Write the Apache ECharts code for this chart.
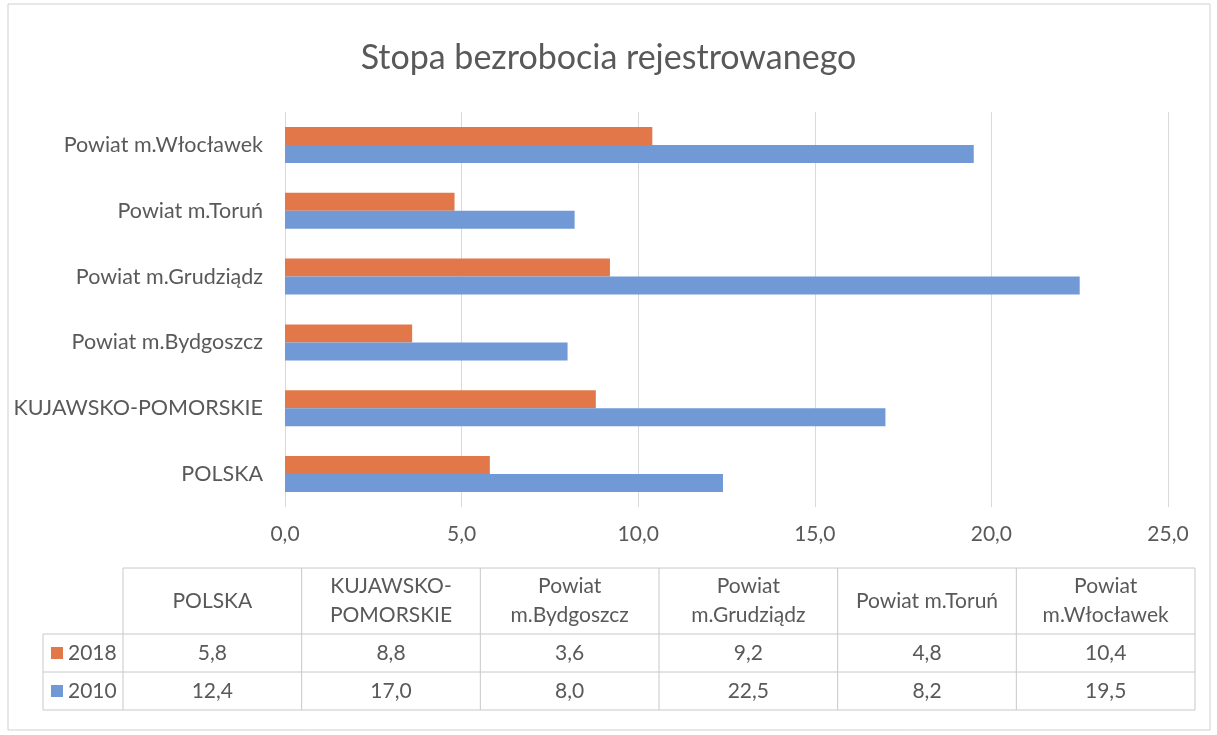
<!DOCTYPE html>
<html>
<head>
<meta charset="utf-8">
<script src="https://cdn.jsdelivr.net/npm/echarts@6/dist/echarts.min.js"></script>
<style>
  html, body { margin: 0; padding: 0; background: #fff; }
  #main { width: 1217px; height: 735px; }
</style>
</head>
<body>
<div id="main"></div>
<script>
// bottom to top, same order as the table columns
var categories = ['POLSKA', 'KUJAWSKO-POMORSKIE', 'Powiat m.Bydgoszcz', 'Powiat m.Grudziądz', 'Powiat m.Toruń', 'Powiat m.Włocławek'];
var tableHeaders = ['POLSKA', 'KUJAWSKO-\nPOMORSKIE', 'Powiat\nm.Bydgoszcz', 'Powiat\nm.Grudziądz', 'Powiat m.Toruń', 'Powiat\nm.Włocławek'];
var values2018 = [5.8, 8.8, 3.6, 9.2, 4.8, 10.4];
var values2010 = [12.4, 17.0, 8.0, 22.5, 8.2, 19.5];
var xTicks = [0, 5, 10, 15, 20, 25];

var ORANGE = '#E2784A';
var BLUE = '#7199D6';
var TEXT = '#595959';
var FONT = 'Lato';

function fmt(v) {
  return v.toFixed(1).replace('.', ',');
}

var chart = echarts.init(document.getElementById('main'));

// data table under the chart
var tab = { left: 123, right: 1195, legendLeft: 43, top: 568, headBottom: 634, rowMid: 672, bottom: 710 };
var colW = (tab.right - tab.left) / categories.length;
var graphic = [];
var lineStyle = { stroke: '#c8c8c8', lineWidth: 1 };
function hline(x1, x2, y) {
  graphic.push({ type: 'line', shape: { x1: x1, y1: y, x2: x2, y2: y }, style: lineStyle, silent: true });
}
function vline(x, y1, y2) {
  graphic.push({ type: 'line', shape: { x1: x, y1: y1, x2: x, y2: y2 }, style: lineStyle, silent: true });
}
hline(tab.left, tab.right, tab.top);
hline(tab.legendLeft, tab.right, tab.headBottom);
hline(tab.legendLeft, tab.right, tab.rowMid);
hline(tab.legendLeft, tab.right, tab.bottom);
vline(tab.legendLeft, tab.headBottom, tab.bottom);
for (var c = 0; c <= categories.length; c++) {
  vline(tab.left + c * colW, tab.top, tab.bottom);
}
var rows = [
  { name: '2018', color: ORANGE, vals: values2018, y: (tab.headBottom + tab.rowMid) / 2 },
  { name: '2010', color: BLUE, vals: values2010, y: (tab.rowMid + tab.bottom) / 2 }
];
rows.forEach(function (r) {
  graphic.push({ type: 'rect', shape: { x: 51, y: r.y - 6, width: 12, height: 12 }, style: { fill: r.color } });
  graphic.push({ type: 'text', x: 68, y: r.y, style: { text: r.name, fill: TEXT, font: '21px ' + FONT, textVerticalAlign: 'middle' } });
  r.vals.forEach(function (v, i) {
    graphic.push({ type: 'text', x: tab.left + (i + 0.5) * colW, y: r.y, style: { text: fmt(v), fill: TEXT, font: '21px ' + FONT, textAlign: 'center', textVerticalAlign: 'middle' } });
  });
});
tableHeaders.forEach(function (h, i) {
  graphic.push({ type: 'text', x: tab.left + (i + 0.5) * colW, y: (tab.top + tab.headBottom) / 2, style: { text: h, fill: TEXT, font: '21px ' + FONT, textAlign: 'center', textVerticalAlign: 'middle', lineHeight: 29 } });
});
// outer frame
graphic.push({ type: 'rect', shape: { x: 8, y: 4, width: 1202, height: 726 }, style: { fill: 'none', stroke: '#d0d0d0', lineWidth: 1 }, silent: true });

var option = {
  backgroundColor: '#fff',
  animation: false,
  textStyle: { fontFamily: FONT },
  title: {
    text: 'Stopa bezrobocia rejestrowanego',
    left: 'center',
    top: 36,
    textStyle: { fontFamily: FONT, fontSize: 34, fontWeight: 'normal', color: TEXT }
  },
  grid: { left: 285, right: 49, top: 112, bottom: 228, containLabel: false },
  xAxis: {
    type: 'value',
    min: 0,
    max: 25,
    interval: 5,
    axisLine: { show: false },
    axisTick: { show: false },
    splitLine: { lineStyle: { color: '#d9d9d9', width: 1 } },
    axisLabel: { formatter: fmt, color: TEXT, fontSize: 21, margin: 17, fontFamily: FONT }
  },
  yAxis: {
    type: 'category',
    data: categories,
    axisLine: { show: false },
    axisTick: { show: false },
    axisLabel: { color: TEXT, fontSize: 21.5, margin: 22, fontFamily: FONT }
  },
  series: [
    { name: '2018', type: 'bar', data: values2018, barWidth: 18, barGap: '0%', itemStyle: { color: ORANGE } },
    { name: '2010', type: 'bar', data: values2010, barWidth: 18, barGap: '0%', itemStyle: { color: BLUE } }
  ],
  graphic: graphic
};
chart.setOption(option);
</script>
</body>
</html>
